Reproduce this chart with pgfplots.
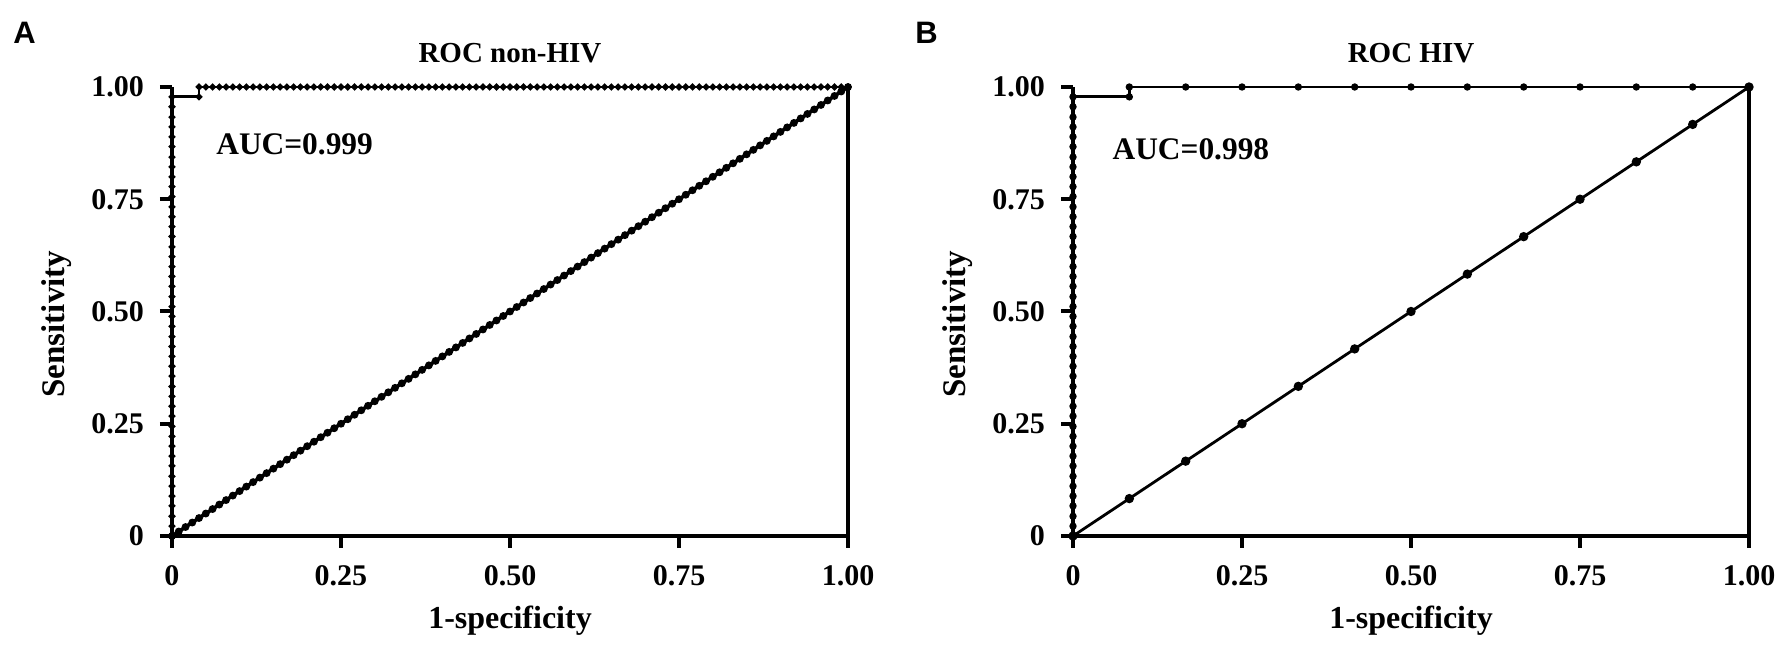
\documentclass[border=0pt]{standalone}
\usepackage{pgfplots}
\usepackage{pgfplotstable}
\pgfplotsset{compat=1.18}
\usepackage{fontspec}
\setmainfont{Liberation Serif}
\newfontfamily\panelfont{Liberation Sans}

% ROC curve, panel A (non-HIV)
\pgfplotstableread[row sep=\\]{x y\\
0 0\\ 0 0.022\\ 0 0.044\\ 0 0.067\\ 0 0.089\\ 0 0.111\\ 0 0.133\\ 0 0.156\\ 0 0.178\\ 0 0.200\\ 0 0.222\\ 0 0.244\\ 0 0.267\\ 0 0.289\\ 0 0.311\\ 0 0.333\\ 0 0.356\\ 0 0.378\\ 0 0.400\\ 0 0.422\\ 0 0.444\\ 0 0.467\\ 0 0.489\\ 0 0.511\\ 0 0.533\\ 0 0.556\\ 0 0.578\\ 0 0.600\\ 0 0.622\\ 0 0.644\\ 0 0.667\\ 0 0.689\\ 0 0.711\\ 0 0.733\\ 0 0.756\\ 0 0.778\\ 0 0.800\\ 0 0.822\\ 0 0.844\\ 0 0.867\\ 0 0.889\\ 0 0.911\\ 0 0.933\\ 0 0.956\\ 0 0.978\\
0.04 0.978\\ 0.04 1\\ 0.05 1\\ 0.06 1\\ 0.07 1\\ 0.08 1\\ 0.09 1\\ 0.10 1\\ 0.11 1\\ 0.12 1\\ 0.13 1\\ 0.14 1\\ 0.15 1\\ 0.16 1\\ 0.17 1\\ 0.18 1\\ 0.19 1\\ 0.20 1\\ 0.21 1\\ 0.22 1\\ 0.23 1\\ 0.24 1\\ 0.25 1\\ 0.26 1\\ 0.27 1\\ 0.28 1\\ 0.29 1\\ 0.30 1\\ 0.31 1\\ 0.32 1\\ 0.33 1\\ 0.34 1\\ 0.35 1\\ 0.36 1\\ 0.37 1\\ 0.38 1\\ 0.39 1\\ 0.40 1\\ 0.41 1\\ 0.42 1\\ 0.43 1\\ 0.44 1\\ 0.45 1\\ 0.46 1\\ 0.47 1\\ 0.48 1\\ 0.49 1\\ 0.50 1\\ 0.51 1\\ 0.52 1\\ 0.53 1\\ 0.54 1\\ 0.55 1\\ 0.56 1\\ 0.57 1\\ 0.58 1\\ 0.59 1\\ 0.60 1\\ 0.61 1\\ 0.62 1\\ 0.63 1\\ 0.64 1\\ 0.65 1\\ 0.66 1\\ 0.67 1\\ 0.68 1\\ 0.69 1\\ 0.70 1\\ 0.71 1\\ 0.72 1\\ 0.73 1\\ 0.74 1\\ 0.75 1\\ 0.76 1\\ 0.77 1\\ 0.78 1\\ 0.79 1\\ 0.80 1\\ 0.81 1\\ 0.82 1\\ 0.83 1\\ 0.84 1\\ 0.85 1\\ 0.86 1\\ 0.87 1\\ 0.88 1\\ 0.89 1\\ 0.90 1\\ 0.91 1\\ 0.92 1\\ 0.93 1\\ 0.94 1\\ 0.95 1\\ 0.96 1\\ 0.97 1\\ 0.98 1\\ 0.99 1\\ 1.00 1\\
}\rocA

% reference diagonal, panel A
\pgfplotstableread[row sep=\\]{x y\\
0 0\\ 0.01 0.01\\ 0.02 0.02\\ 0.03 0.03\\ 0.04 0.04\\ 0.05 0.05\\ 0.06 0.06\\ 0.07 0.07\\ 0.08 0.08\\ 0.09 0.09\\ 0.10 0.10\\ 0.11 0.11\\ 0.12 0.12\\ 0.13 0.13\\ 0.14 0.14\\ 0.15 0.15\\ 0.16 0.16\\ 0.17 0.17\\ 0.18 0.18\\ 0.19 0.19\\ 0.20 0.20\\ 0.21 0.21\\ 0.22 0.22\\ 0.23 0.23\\ 0.24 0.24\\ 0.25 0.25\\ 0.26 0.26\\ 0.27 0.27\\ 0.28 0.28\\ 0.29 0.29\\ 0.30 0.30\\ 0.31 0.31\\ 0.32 0.32\\ 0.33 0.33\\ 0.34 0.34\\ 0.35 0.35\\ 0.36 0.36\\ 0.37 0.37\\ 0.38 0.38\\ 0.39 0.39\\ 0.40 0.40\\ 0.41 0.41\\ 0.42 0.42\\ 0.43 0.43\\ 0.44 0.44\\ 0.45 0.45\\ 0.46 0.46\\ 0.47 0.47\\ 0.48 0.48\\ 0.49 0.49\\ 0.50 0.50\\ 0.51 0.51\\ 0.52 0.52\\ 0.53 0.53\\ 0.54 0.54\\ 0.55 0.55\\ 0.56 0.56\\ 0.57 0.57\\ 0.58 0.58\\ 0.59 0.59\\ 0.60 0.60\\ 0.61 0.61\\ 0.62 0.62\\ 0.63 0.63\\ 0.64 0.64\\ 0.65 0.65\\ 0.66 0.66\\ 0.67 0.67\\ 0.68 0.68\\ 0.69 0.69\\ 0.70 0.70\\ 0.71 0.71\\ 0.72 0.72\\ 0.73 0.73\\ 0.74 0.74\\ 0.75 0.75\\ 0.76 0.76\\ 0.77 0.77\\ 0.78 0.78\\ 0.79 0.79\\ 0.80 0.80\\ 0.81 0.81\\ 0.82 0.82\\ 0.83 0.83\\ 0.84 0.84\\ 0.85 0.85\\ 0.86 0.86\\ 0.87 0.87\\ 0.88 0.88\\ 0.89 0.89\\ 0.90 0.90\\ 0.91 0.91\\ 0.92 0.92\\ 0.93 0.93\\ 0.94 0.94\\ 0.95 0.95\\ 0.96 0.96\\ 0.97 0.97\\ 0.98 0.98\\ 0.99 0.99\\ 1.00 1.00\\
}\diagA

% ROC curve, panel B (HIV)
\pgfplotstableread[row sep=\\]{x y\\
0 0\\ 0 0.022\\ 0 0.044\\ 0 0.067\\ 0 0.089\\ 0 0.111\\ 0 0.133\\ 0 0.156\\ 0 0.178\\ 0 0.200\\ 0 0.222\\ 0 0.244\\ 0 0.267\\ 0 0.289\\ 0 0.311\\ 0 0.333\\ 0 0.356\\ 0 0.378\\ 0 0.400\\ 0 0.422\\ 0 0.444\\ 0 0.467\\ 0 0.489\\ 0 0.511\\ 0 0.533\\ 0 0.556\\ 0 0.578\\ 0 0.600\\ 0 0.622\\ 0 0.644\\ 0 0.667\\ 0 0.689\\ 0 0.711\\ 0 0.733\\ 0 0.756\\ 0 0.778\\ 0 0.800\\ 0 0.822\\ 0 0.844\\ 0 0.867\\ 0 0.889\\ 0 0.911\\ 0 0.933\\ 0 0.956\\ 0 0.978\\
0.0833 0.978\\ 0.0833 1\\ 0.1667 1\\ 0.25 1\\ 0.3333 1\\ 0.4167 1\\ 0.5 1\\ 0.5833 1\\ 0.6667 1\\ 0.75 1\\ 0.8333 1\\ 0.9167 1\\ 1 1\\
}\rocB

% reference diagonal, panel B
\pgfplotstableread[row sep=\\]{x y\\
0 0\\ 0.0833 0.0833\\ 0.1667 0.1667\\ 0.25 0.25\\ 0.3333 0.3333\\ 0.4167 0.4167\\ 0.5 0.5\\ 0.5833 0.5833\\ 0.6667 0.6667\\ 0.75 0.75\\ 0.8333 0.8333\\ 0.9167 0.9167\\ 1 1\\
}\diagB

\pgfplotsset{
  rocaxis/.style={
    scale only axis, width=338pt, height=224.5pt,
    xmin=0, xmax=1, ymin=0, ymax=1,
    axis x line*=bottom, axis y line*=left,
    axis line style={line width=2pt, -},
    xtick={0,0.25,0.5,0.75,1}, ytick={0,0.25,0.5,0.75,1},
    xticklabels={\textbf{0},\textbf{0.25},\textbf{0.50},\textbf{0.75},\textbf{1.00}},
    yticklabels={\textbf{0},\textbf{0.25},\textbf{0.50},\textbf{0.75},\textbf{1.00}},
    tick align=outside, major tick length=6pt,
    tick style={line width=2pt, black},
    ticklabel style={font=\fontsize{15}{18}\selectfont\bfseries},
    xticklabel style={yshift=-5pt},
    yticklabel style={xshift=-4.5pt},
    xlabel={1-specificity},
    ylabel={Sensitivity},
    xlabel style={font=\fontsize{16}{19}\selectfont\bfseries, at={(axis description cs:0.5,-0.205)}, anchor=base},
    ylabel style={font=\fontsize{16.5}{19}\selectfont\bfseries, at={(axis description cs:-0.17,0.472)}, anchor=center, rotate=0},
    clip=false,
  }
}

\begin{document}
\begin{tikzpicture}
\path[use as bounding box] (-86pt,-55pt) rectangle (801.5pt,268pt);

\begin{axis}[rocaxis, at={(0pt,0pt)}, anchor=south west]
  \addplot[black, line width=1.8pt, mark=*, mark size=1pt] table[x=x,y=y] {\diagA};
  \addplot[black, line width=1.4pt, mark=*, mark size=0.9pt] table[x=x,y=y] {\rocA};
  \addplot[black, line width=2pt, mark=none] coordinates {(1,0) (1,1)};
  \node[font=\fontsize{14.5}{17}\selectfont\bfseries, anchor=base] at (axis description cs:0.5,1.0535) {ROC non-HIV};
  \node[font=\fontsize{15.7}{18}\selectfont\bfseries, anchor=base west, inner sep=0pt] at (axis description cs:0.065,0.8486) {AUC=0.999};
\end{axis}

\begin{axis}[rocaxis, at={(450.5pt,0pt)}, anchor=south west]
  \addplot[black, line width=1.4pt, mark=*, mark size=1.6pt] table[x=x,y=y] {\diagB};
  \addplot[black, line width=1.4pt, mark=*, mark size=1.1pt] table[x=x,y=y] {\rocB};
  \addplot[black, line width=2pt, mark=none] coordinates {(1,0) (1,1)};
  \node[font=\fontsize{14.5}{17}\selectfont\bfseries, anchor=base] at (axis description cs:0.5,1.0535) {ROC HIV};
  \node[font=\fontsize{15.7}{18}\selectfont\bfseries, anchor=base west, inner sep=0pt] at (axis description cs:0.058,0.8374) {AUC=0.998};
\end{axis}

\node[font=\panelfont\fontsize{15.5}{18}\selectfont\bfseries, anchor=base west, inner sep=0pt] at (-79.5pt,246pt) {A};
\node[font=\panelfont\fontsize{15.5}{18}\selectfont\bfseries, anchor=base west, inner sep=0pt] at (371.5pt,246pt) {B};
\end{tikzpicture}
\end{document}
